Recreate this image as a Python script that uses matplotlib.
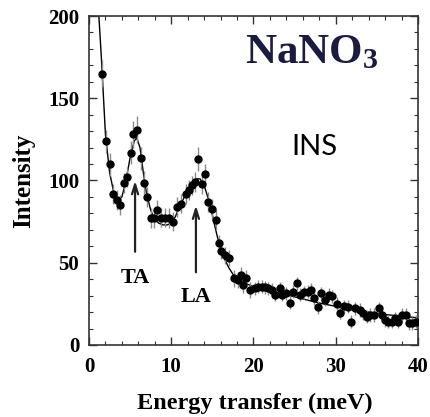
import matplotlib
matplotlib.use('Agg')
import matplotlib.pyplot as plt
from matplotlib.ticker import MultipleLocator

# measured points (energy transfer in meV, intensity)
energy = [1.6, 2.1, 2.6, 2.95, 3.35, 3.8, 4.2, 4.65, 5.05, 5.4,
          5.85, 6.3, 6.7, 7.1, 7.5, 7.9, 8.3, 8.7, 9.25, 9.75,
          10.25, 10.7, 11.15, 11.8, 12.2, 12.55, 12.9, 13.3, 13.7, 14.1,
          14.5, 14.9, 15.4, 15.75, 16.1, 16.55, 17.05, 17.6, 18.15, 18.45,
          18.75, 19.1, 19.6, 20.2, 20.6, 21.0, 21.4, 21.8, 22.2, 22.6,
          23.2, 23.45, 23.95, 24.4, 24.8, 25.3, 25.65, 26.1, 26.65, 27.0,
          27.4, 27.8, 28.2, 28.7, 29.2, 29.6, 30.1, 30.5, 31.0, 31.5,
          31.9, 32.3, 32.9, 33.3, 33.8, 34.2, 34.6, 35.2, 35.6, 36.0,
          36.4, 36.8, 37.2, 37.6, 38.1, 38.5, 38.9, 39.3, 39.7]
intensity = [165, 124, 110, 92, 88, 85, 98.5, 102, 117, 128,
             131, 113.5, 98.5, 90, 77, 77, 82, 77.5, 77.5, 77,
             75, 84, 86, 92, 94, 97, 99, 113, 98, 104,
             87, 82.5, 76, 62, 57, 54.5, 53, 40.5, 39.5, 42.5,
             36.5, 40.5, 33.5, 34.5, 35.5, 35.5, 35, 34.5, 33.5, 30.5,
             34.5, 30.5, 31.5, 25.7, 32.5, 37.5, 30.5, 32, 32.5, 33.5,
             28.5, 23, 31.5, 27.5, 30.5, 29.5, 25, 19.5, 23.5, 23.3,
             14.2, 22.3, 21.3, 19.3, 17.2, 18.2, 18.2, 22.3, 18.2, 15.2,
             14.2, 14.2, 16.2, 14.2, 18.2, 18.2, 13.2, 13.2, 14.2]
errors = [8, 7, 7, 6, 6, 6, 6, 6, 7, 8,
          8, 7, 7, 6, 6, 6, 6, 6, 6, 6,
          6, 6, 6, 6, 6, 6, 6, 7.5, 6, 6,
          6, 6, 6, 5, 5, 5, 5, 5, 5, 5,
          5, 5, 5, 4, 4, 4, 4, 4, 4, 4,
          4, 4, 4, 4, 4, 4, 4, 4, 4, 4,
          4, 4, 4, 4, 4, 4, 4, 4, 4, 4,
          4, 4, 4, 4, 4, 4, 4, 4, 4, 4,
          4, 4, 4, 4, 4, 4, 4, 4, 4]

# fitted curve
fit_x = [1.2, 1.5, 2.0, 2.5, 3.0, 3.5, 4.0, 4.5, 5.0, 5.5,
         5.8, 6.2, 6.6, 7.0, 7.5, 8.0, 8.5, 9.0, 9.5, 10.0,
         10.5, 11.0, 11.5, 12.0, 12.5, 13.0, 13.5, 14.0, 14.5, 15.0,
         15.5, 16.0, 16.5, 17.0, 17.5, 18.0, 19.0, 20.0, 22.0, 24.0,
         26.0, 28.0, 30.0, 32.0, 34.0, 36.0, 38.0, 40.0]
fit_y = [200, 175, 128, 105, 93, 88, 90, 100, 114, 124,
         126, 120, 105, 92, 82, 76, 74, 73, 73, 74,
         78, 84, 89, 94, 98, 101, 101, 97, 89, 79,
         68, 58, 52, 47, 43, 40, 37.5, 35.5, 33, 30.5,
         28, 25.5, 23.5, 21.5, 20, 18.5, 17.5, 16.5]

# phonon arrows: (label, x, arrow tip, arrow tail, label y)
modes = [('TA', 5.6, 101.5, 55, 41), ('LA', 13.0, 86.5, 42.5, 29.4)]

serif = 'Liberation Serif'
plt.rcParams['mathtext.fontset'] = 'custom'
plt.rcParams['mathtext.bf'] = serif + ':bold'
plt.rcParams['mathtext.rm'] = serif

fig = plt.figure(figsize=(4.31, 4.17), dpi=100)
ax = fig.add_axes([0.2065, 0.1727, 0.7633, 0.7889])

ax.errorbar(energy, intensity, yerr=errors, fmt='o', color='black', ms=5,
            ecolor='#8a8a8a', elinewidth=1.0, capsize=0, zorder=3)
ax.plot(fit_x, fit_y, color='black', lw=1.0, zorder=2)

for name, x, tip, tail, ty in modes:
    ax.annotate('', xy=(x, tip), xytext=(x, tail),
                arrowprops=dict(arrowstyle='->,head_length=0.7,head_width=0.22',
                                color='#222222', lw=1.6))
    ax.text(x, ty, name, ha='center', va='center', fontsize=16,
            fontweight='bold', family=serif)

ax.text(0.474, 0.857, r'$\mathbf{NaNO_3}$', transform=ax.transAxes,
        fontsize=31, color='#1b1b40', ha='left', va='baseline')
ax.text(0.684, 0.578, 'INS', transform=ax.transAxes, fontsize=21,
        family='Lato', ha='center', va='baseline')

ax.set_xlim(0, 40)
ax.set_ylim(0, 200)
ax.xaxis.set_major_locator(MultipleLocator(10))
ax.xaxis.set_minor_locator(MultipleLocator(2))
ax.yaxis.set_major_locator(MultipleLocator(50))
ax.yaxis.set_minor_locator(MultipleLocator(10))
ax.tick_params(which='both', direction='in', top=True, right=True, color='#333333')
ax.tick_params(which='major', length=6, width=1.0)
ax.tick_params(which='minor', length=3, width=0.8)
ax.tick_params(axis='x', which='major', pad=9)
ax.tick_params(axis='y', which='major', pad=7)
for lab in ax.get_xticklabels() + ax.get_yticklabels():
    lab.set_family(serif)
    lab.set_fontweight('bold')
    lab.set_fontsize(15)
for sp in ax.spines.values():
    sp.set_color('#333333')
    sp.set_linewidth(1.2)

ax.set_xlabel('Energy transfer (meV)', family=serif, fontweight='bold', fontsize=17.5)
ax.set_ylabel('Intensity', family=serif, fontweight='bold', fontsize=18)
ax.xaxis.set_label_coords(0.505, -0.146)
ax.yaxis.set_label_coords(-0.165, 0.50)

fig.savefig('out.png', dpi=100)
